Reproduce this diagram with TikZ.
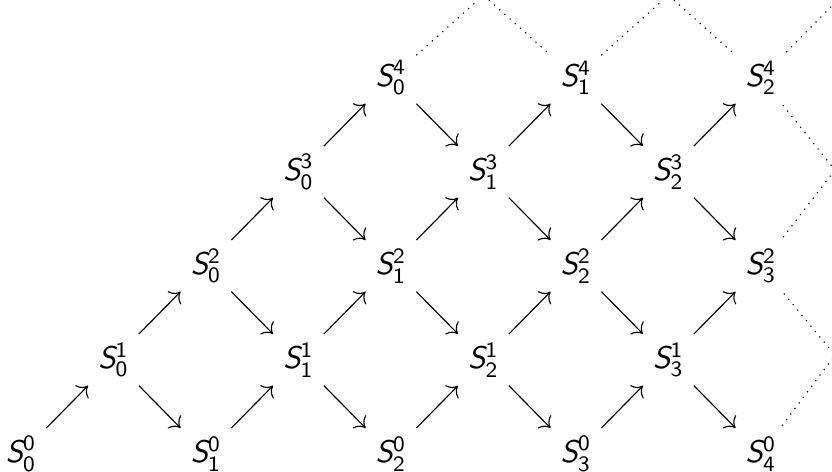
\documentclass[tikz,border=0pt]{standalone}
\usepackage{amsmath,amssymb}
\usepackage{tikz}
\usetikzlibrary{arrows.meta,calc}

\newcommand{\Slab}[2]{{\sffamily\slshape S}$^{\textsf{#2}}_{\textsf{#1}}$}

\begin{document}
\begin{tikzpicture}[x=1.122cm,y=1.14cm,
    lbl/.style={inner sep=3.3pt,font=\fontsize{10.8}{13}\selectfont},
    arr/.style={-{Computer Modern Rightarrow[length=3.2pt,width=6.4pt]}},
    dots/.style={dotted}]
  \clip[use as bounding box] (-0.227,-0.192) rectangle (8.768,4.829);
  % lattice of the S_i^r
  \foreach \r/\imax in {0/4,1/3,2/3,3/2,4/2}
    \foreach \i in {0,...,\imax}
      \node[lbl] (s\i-\r) at ({2*\i+\r},\r) {\Slab{\i}{\r}};
  % up-right arrows
  \foreach \r/\imax in {0/3,1/3,2/2,3/2}
    \foreach \i in {0,...,\imax} {
      \pgfmathtruncatemacro\rr{\r+1}
      \draw[arr] (s\i-\r) -- (s\i-\rr);
    }
  % down-right arrows
  \foreach \r/\imax in {1/3,2/2,3/2,4/1}
    \foreach \i in {0,...,\imax} {
      \pgfmathtruncatemacro\rr{\r-1}
      \pgfmathtruncatemacro\j{\i+1}
      \draw[arr] (s\i-\r) -- (s\j-\rr);
    }
  % dotted continuations
  \coordinate (p0) at (5,4.88);
  \coordinate (p1) at (7,4.88);
  \coordinate (p2) at (8.85,4.85);
  \coordinate (q3) at (8.8,3.02);
  \coordinate (q1) at (8.8,1.05);
  \draw[dots] (s0-4) -- (p0) -- (s1-4);
  \draw[dots] (s1-4) -- (p1) -- (s2-4);
  \draw[dots] (s2-4) -- (p2);
  \draw[dots] (s2-4) -- (q3) -- (s3-2);
  \draw[dots] (s3-2) -- (q1) -- (s4-0);
\end{tikzpicture}
\end{document}
